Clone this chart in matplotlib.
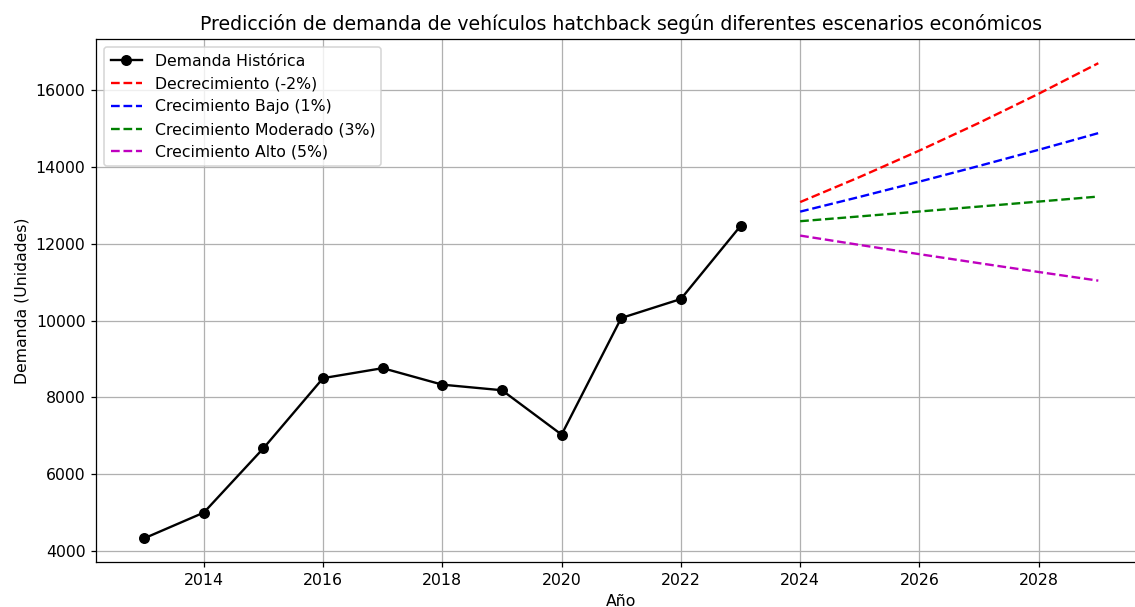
import matplotlib.pyplot as plt

# Demanda histórica de hatchbacks
anios_hist = [2013, 2014, 2015, 2016, 2017, 2018, 2019, 2020, 2021, 2022, 2023]
demanda_hist = [4330, 5000, 6675, 8500, 8760, 8330, 8185, 7030, 10065, 10560, 12460]

# Proyecciones por escenario
anios_pred = [2024, 2025, 2026, 2027, 2028, 2029]
decrecimiento = [13083, 13737, 14424, 15145, 15903, 16698]
crec_bajo = [12834, 13219, 13615, 14024, 14444, 14878]
crec_moderado = [12585, 12710, 12838, 12966, 13096, 13227]
crec_alto = [12211, 11967, 11727, 11493, 11263, 11038]

escenarios = [
    ("Decrecimiento (-2%)", decrecimiento, "r--"),
    ("Crecimiento Bajo (1%)", crec_bajo, "b--"),
    ("Crecimiento Moderado (3%)", crec_moderado, "g--"),
    ("Crecimiento Alto (5%)", crec_alto, "m--"),
]

DPI = 113
fig, ax = plt.subplots(figsize=(1135 / DPI, 607 / DPI), dpi=DPI)
fig.subplots_adjust(left=0.085, right=1.0097, top=0.935, bottom=0.074)

ax.plot(anios_hist, demanda_hist, "ko-", label="Demanda Histórica")
for nombre, valores, estilo in escenarios:
    ax.plot(anios_pred, valores, estilo, label=nombre)

ax.set_title("Predicción de demanda de vehículos hatchback según diferentes escenarios económicos")
ax.set_xlabel("Año")
ax.set_ylabel("Demanda (Unidades)")
ax.legend(loc="upper left")
ax.grid(True)

plt.savefig("out.png", dpi=DPI)
plt.close()
